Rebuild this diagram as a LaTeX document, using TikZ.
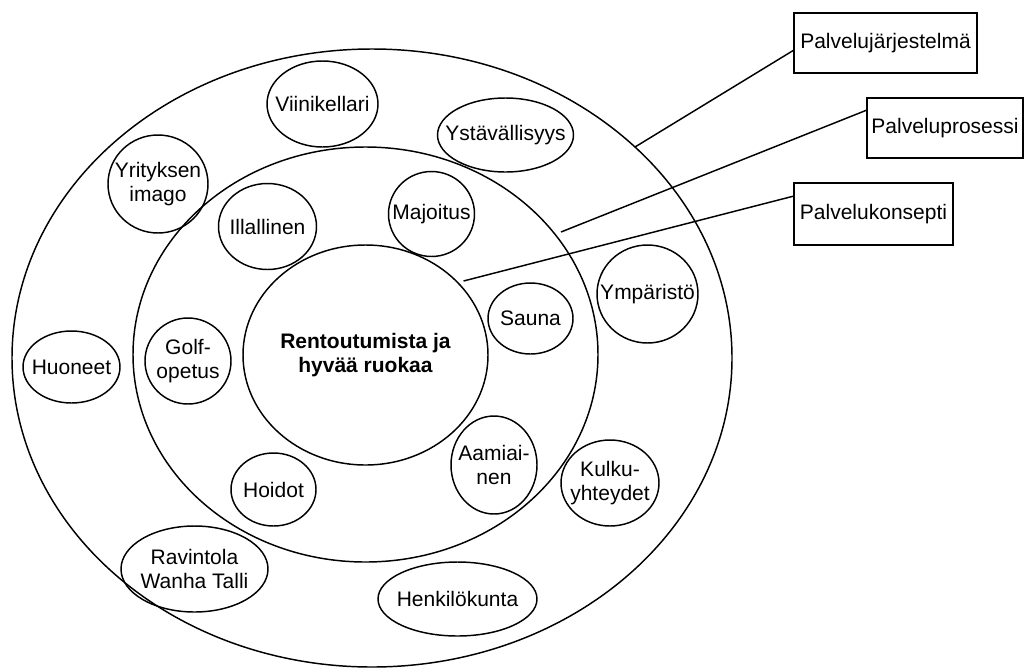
\documentclass[tikz,border=0pt]{standalone}
\usepackage{fontspec}
\setmainfont{Liberation Sans}
\usetikzlibrary{shapes.geometric}
\begin{document}
\begin{tikzpicture}[x=0.75pt,y=-0.75pt, line width=1.1pt,
  el/.style={ellipse, draw, inner sep=0pt, outer sep=0pt},
  txt/.style={font=\fontsize{15.75}{18.4}\selectfont, align=center, inner sep=0pt},
  boxnode/.style={rectangle, draw, inner sep=0pt, outer sep=0pt, minimum height=45pt, font=\fontsize{15.75}{18.4}\selectfont}]
\useasboundingbox (0,0) rectangle (1024,668);
% layers
\node[el, minimum width=540pt, minimum height=463.5pt] (jarj) at (372,358) {};
\node[el, minimum width=348.75pt, minimum height=311.25pt] (pros) at (365.5,354.5) {};
\node[el, minimum width=183.75pt, minimum height=165pt] (kons) at (365.5,355) {};
\node[txt, font=\fontsize{15.75}{18.4}\selectfont\bfseries] (konst) at (kons) {Rentoutumista ja\\hyvää ruokaa};
% small ellipses
\node[el, minimum width=83.25pt, minimum height=64.5pt] (vin) at (322.5,104) {};
\node[txt] (vint) at (vin) {Viinikellari};
\node[el, minimum width=102pt, minimum height=55.5pt] (yst) at (505.5,135) {};
\node[txt] (ystt) at (yst) {Ystävällisyys};
\node[el, minimum width=75pt, minimum height=73.5pt] (yri) at (158,184) {};
\node[txt] (yrit) at (yri) {Yrityksen\\imago};
\node[el, minimum width=73.5pt, minimum height=64.5pt] (ill) at (267.5,226.5) {};
\node[txt] (illt) at (ill) {Illallinen};
\node[el, minimum width=64.5pt, minimum height=63.75pt] (maj) at (431.5,214) {};
\node[txt] (majt) at (maj) {Majoitus};
\node[el, minimum width=63.75pt, minimum height=53.25pt] (sau) at (530.5,318.5) {};
\node[txt] (saut) at (sau) {Sauna};
\node[el, minimum width=75.75pt, minimum height=73.5pt] (ymp) at (647.5,294) {};
\node[txt] (ympt) at (ymp) {Ympäristö};
\node[el, minimum width=72.75pt, minimum height=54pt] (huo) at (71.5,367) {};
\node[txt] (huot) at (huo) {Huoneet};
\node[el, minimum width=64.5pt, minimum height=64.5pt] (gol) at (188,361) {};
\node[txt] (golt) at (gol) {Golf-\\opetus};
\node[el, minimum width=64.5pt, minimum height=73.5pt] (aam) at (494,465) {};
\node[txt] (aamt) at (aam) {Aamiai-\\nen};
\node[el, minimum width=73.5pt, minimum height=64.5pt] (kul) at (610,483) {};
\node[txt] (kult) at (kul) {Kulku-\\yhteydet};
\node[el, minimum width=63.75pt, minimum height=54.75pt] (hoi) at (273.5,489.5) {};
\node[txt] (hoit) at (hoi) {Hoidot};
\node[el, minimum width=110.25pt, minimum height=64.5pt] (rav) at (194.5,569) {};
\node[txt] (ravt) at (rav) {Ravintola\\Wanha Talli};
\node[el, minimum width=119.25pt, minimum height=55.5pt] (hen) at (457.5,599) {};
\node[txt] (hent) at (hen) {Henkilökunta};
% boxes
\node[boxnode, minimum width=137.25pt] (box1) at (885.5,43) {Palvelujärjestelmä};
\node[boxnode, minimum width=117pt] (box2) at (945,128) {Palveluprosessi};
\node[boxnode, minimum width=119.25pt, minimum height=46.5pt] (box3) at (873.5,214) {Palvelukonsepti};
% connectors
\coordinate (c1) at (635,147);
\coordinate (c2) at (561,232);
\coordinate (c3) at (463.5,281);
\draw (c1) -- ([yshift=-5.25pt]box1.west);
\draw (c2) -- ([yshift=-9pt]box2.north west);
\draw (c3) -- ([yshift=-9.75pt]box3.north west);
\end{tikzpicture}
\end{document}
